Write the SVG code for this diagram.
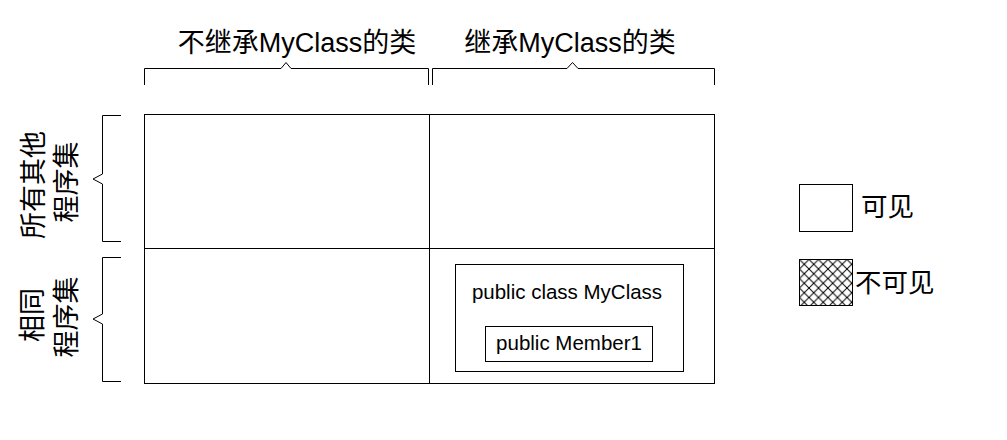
<svg xmlns="http://www.w3.org/2000/svg" width="1007" height="440" viewBox="0 0 1007 440">
<style>
.ln{fill:none;stroke:#000;stroke-width:1}
.box{fill:#fff;stroke:#000;stroke-width:1}
.t{font-family:"Liberation Sans","Noto Sans CJK SC",sans-serif;fill:#000}
.big{font-size:27px}
.lg{font-size:26.5px}
.code{font-size:20.5px}
</style>
<defs>
<pattern id="hatch" patternUnits="userSpaceOnUse" x="799.5" y="259.5" width="9.5" height="9.5">
<rect width="9.5" height="9.5" fill="#fff"/>
<path d="M0,0 L9.5,9.5 M9.5,0 L0,9.5" stroke="#000" stroke-width="1" fill="none"/>
</pattern>
</defs>
<rect width="1007" height="440" fill="#fff"/>
<g id="connectors">
<path class="ln" d="M144.5,85 V68.5 H281 L286,62.5 L291,68.5 H428.5 V85"/>
<path class="ln" d="M432.5,85 V68.5 H567 L572.5,62.5 L578,68.5 H714.5 V85"/>
<path class="ln" d="M121,115.5 H102.5 V174 L93,179 L102.5,184 V241.5 H121"/>
<path class="ln" d="M121,257.5 H102.5 V314 L93,319 L102.5,324 V381.5 H121"/>
</g>
<g id="grid">
<rect class="box" x="144.5" y="114.5" width="570" height="269"/>
<line class="ln" x1="429.5" y1="114.5" x2="429.5" y2="383.5"/>
<line class="ln" x1="144.5" y1="248.5" x2="714.5" y2="248.5"/>
</g>
<g id="col-headers">
<text class="t big" x="297" y="52" text-anchor="middle">不继承MyClass的类</text>
<text class="t big" x="570" y="52" text-anchor="middle">继承MyClass的类</text>
</g>
<g id="row-headers">
<text class="t big" transform="translate(34,185) rotate(-90)" text-anchor="middle" dominant-baseline="central">所有其他</text>
<text class="t big" transform="translate(67,182) rotate(-90)" text-anchor="middle" dominant-baseline="central">程序集</text>
<text class="t big" transform="translate(33,315) rotate(-90)" text-anchor="middle" dominant-baseline="central">相同</text>
<text class="t big" transform="translate(67,317) rotate(-90)" text-anchor="middle" dominant-baseline="central">程序集</text>
</g>
<g id="myclass">
<rect class="box" x="455.5" y="264.5" width="228" height="107"/>
<text class="t code" x="567" y="299" text-anchor="middle">public class MyClass</text>
</g>
<g id="member1">
<rect class="box" x="485.5" y="326.5" width="167" height="35"/>
<text class="t code" x="569" y="350" text-anchor="middle">public Member1</text>
</g>
<g id="legend-visible">
<rect class="box" x="799.5" y="184.5" width="53" height="47"/>
<text class="t lg" x="861" y="216">可见</text>
</g>
<g id="legend-invisible">
<rect x="799.5" y="259.5" width="53" height="46" fill="url(#hatch)" stroke="#000" stroke-width="1"/>
<text class="t lg" x="855" y="292">不可见</text>
</g>
</svg>
